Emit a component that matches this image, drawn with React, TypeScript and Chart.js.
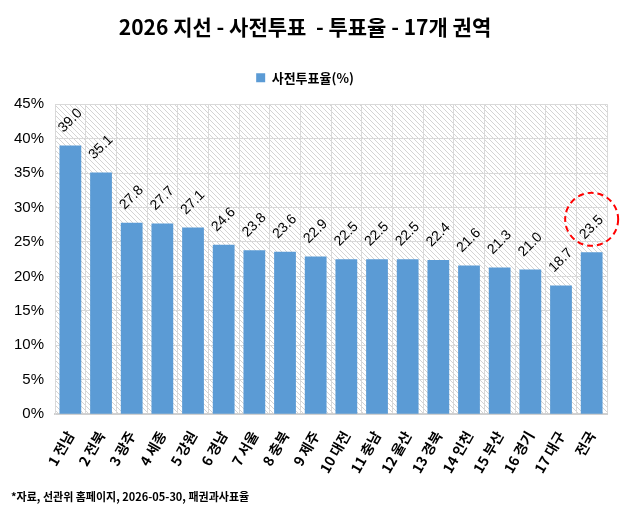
import React, { useEffect, useRef } from "react";
import { Chart, registerables } from "chart.js";

Chart.register(...registerables);

const categories = ["1 전남", "2 전북", "3 광주", "4 세종", "5 강원", "6 경남", "7 서울", "8 충북", "9 제주", "10 대전", "11 충남", "12 울산", "13 경북", "14 인천", "15 부산", "16 경기", "17 대구", "전국"];
const turnout = [39.0, 35.1, 27.8, 27.7, 27.1, 24.6, 23.8, 23.6, 22.9, 22.5, 22.5, 22.5, 22.4, 21.6, 21.3, 21.0, 18.7, 23.5];
const seriesName = "사전투표율(%)";
const titleText = "2026 지선 - 사전투표  - 투표율 - 17개 권역";
const footnote = "*자료, 선관위 홈페이지, 2026-05-30, 패권과사표율";
const highlightIndex = 17;

const KR = "'Noto Sans CJK KR', 'Noto Sans', sans-serif";
const NUM = "'Liberation Sans', Arial, sans-serif";

function makePattern(): CanvasPattern | string {
  const c = document.createElement("canvas");
  c.width = 5;
  c.height = 5;
  const g = c.getContext("2d");
  if (!g) return "#fff";
  g.fillStyle = "#ffffff";
  g.fillRect(0, 0, 5, 5);
  g.strokeStyle = "#c9c9c9";
  g.lineWidth = 0.8;
  g.beginPath();
  g.moveTo(-1, -1);
  g.lineTo(6, 6);
  g.moveTo(-1, 4);
  g.lineTo(1, 6);
  g.moveTo(4, -1);
  g.lineTo(6, 1);
  g.stroke();
  const p = g.createPattern(c, "repeat");
  return p || "#fff";
}

const legendSpacer = {
  id: "legendSpacer",
  beforeInit(chart: any) {
    const legend = chart.legend;
    if (!legend) return;
    const orig = legend.fit;
    legend.fit = function () {
      orig.call(this);
      this.height += 10;
    };
  },
};

const bgPlugin = {
  id: "hatchBg",
  beforeDraw(chart: any) {
    const { ctx, chartArea } = chart;
    ctx.save();
    ctx.fillStyle = "#ffffff";
    ctx.fillRect(0, 0, chart.width, chart.height);
    ctx.fillStyle = makePattern();
    ctx.fillRect(chartArea.left, chartArea.top, chartArea.right - chartArea.left, chartArea.bottom - chartArea.top);
    ctx.restore();
  },
};

const labelPlugin = {
  id: "valueLabels",
  afterDatasetsDraw(chart: any) {
    const { ctx } = chart;
    const meta = chart.getDatasetMeta(0);
    ctx.save();
    ctx.font = `14px ${NUM}`;
    ctx.fillStyle = "#000";
    ctx.textAlign = "center";
    ctx.textBaseline = "middle";
    meta.data.forEach((bar: any, i: number) => {
      const v = turnout[i];
      ctx.save();
      ctx.translate(bar.x, bar.y - 25);
      ctx.rotate(-Math.PI / 4);
      ctx.fillText(v.toFixed(1), 0, 0);
      ctx.restore();
    });
    const hb = meta.data[highlightIndex];
    if (hb) {
      ctx.beginPath();
      ctx.strokeStyle = "#ff0000";
      ctx.lineWidth = 2;
      ctx.setLineDash([6, 4]);
      ctx.arc(hb.x, hb.y - 33, 26.5, 0, Math.PI * 2);
      ctx.stroke();
    }
    ctx.setLineDash([]);
    ctx.font = `bold 11px ${KR}`;
    ctx.textAlign = "left";
    ctx.textBaseline = "middle";
    ctx.fillText(footnote, 11, 497);
    ctx.restore();
  },
};

export default function App() {
  const ref = useRef<HTMLCanvasElement | null>(null);
  useEffect(() => {
    if (!ref.current) return;
    const chart = new Chart(ref.current, {
      type: "bar",
      data: {
        labels: categories,
        datasets: [
          {
            label: seriesName,
            data: turnout,
            backgroundColor: "#5B9BD5",
            borderWidth: 0,
            barPercentage: 0.71,
            categoryPercentage: 1,
          },
        ],
      },
      options: {
        responsive: false,
        animation: false,
        layout: { padding: { top: 14, right: 14, bottom: 16, left: 3 } },
        plugins: {
          title: {
            display: true,
            text: titleText,
            color: "#000",
            font: { family: KR, size: 21, weight: "bold" },
            padding: { top: 0, bottom: 12 },
          },
          legend: {
            display: true,
            position: "top",
            labels: {
              color: "#000",
              boxWidth: 9,
              boxHeight: 9,
              padding: 20,
              font: { family: KR, size: 13, weight: "bold" },
            },
          },
          tooltip: { enabled: false },
        },
        scales: {
          x: {
            grid: { color: "#d9d9d9", lineWidth: 1, offset: true, drawTicks: false },
            border: { color: "#d0d0d0", width: 2 },
            ticks: {
              color: "#000",
              font: { family: KR, size: 14, weight: "bold" },
              minRotation: 60,
              maxRotation: 60,
              padding: 14,
              autoSkip: false,
            },
          },
          y: {
            min: 0,
            max: 45,
            grid: { color: "#d9d9d9", lineWidth: 1, drawTicks: false },
            border: { color: "#d9d9d9" },
            ticks: {
              stepSize: 5,
              color: "#000",
              padding: 11,
              font: { family: NUM, size: 15 },
              callback: (v: any) => `${v}%`,
            },
          },
        },
      },
      plugins: [legendSpacer, bgPlugin, labelPlugin],
    });
    return () => chart.destroy();
  }, []);
  return (
    <div style={{ position: "absolute", left: 0, top: 0, width: 621, height: 506 }}>
      <canvas ref={ref} width={621} height={506} />
    </div>
  );
}
